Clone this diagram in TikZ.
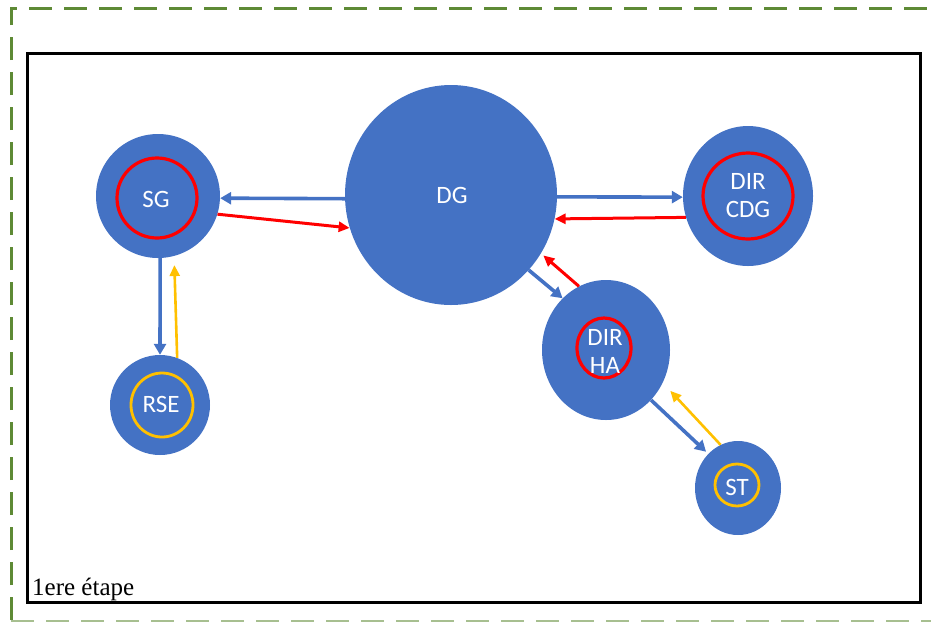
\documentclass[tikz,border=0pt]{standalone}
\usepackage{fontspec}
\setmainfont{Carlito}
\newfontfamily\labelfont{Liberation Serif}
\usetikzlibrary{shapes.geometric,arrows.meta}
\definecolor{nodeblue}{HTML}{4472C4}
\definecolor{ringred}{HTML}{FF0000}
\definecolor{ringyellow}{HTML}{FFC000}
\definecolor{frameGreen}{HTML}{5E8A35}
\tikzset{
  bubble/.style={ellipse, fill=nodeblue, inner sep=0pt},
  bubbletext/.style={text=white, font=\fontsize{25}{28}\selectfont, align=center, inner sep=0pt},
  ringR/.style={ellipse, draw=ringred, line width=3.2pt, inner sep=0pt},
  ringY/.style={ellipse, draw=ringyellow, line width=2.8pt, inner sep=0pt},
  bluearrow/.style={draw=nodeblue, line width=3.6pt, -{Triangle[length=11pt,width=12pt]}},
  redarrow/.style={draw=ringred, line width=3pt, -{Triangle[length=11pt,width=10pt]}},
  yelarrow/.style={draw=ringyellow, line width=2.6pt, -{Triangle[length=11pt,width=10pt]}},
}
\begin{document}
\begin{tikzpicture}[x=1pt,y=-1pt]
\useasboundingbox (0,0) rectangle (931,622);
\begin{scope}
\clip (0,0) rectangle (931,622);
\draw[frameGreen, line width=3pt, dash pattern=on 23pt off 12pt] (11,620) -- (11,8) -- (945,8);
\draw[frameGreen!55, line width=2.4pt, dash pattern=on 23pt off 12pt] (11,621) -- (945,621);
\end{scope}
\draw[black, line width=3pt] (27,53) rectangle (920,602);

% bubbles
\node[bubble, minimum width=124pt, minimum height=124pt] (SG) at (158,196) {};
\node[bubble, minimum width=212pt, minimum height=220pt] (DG) at (451,195) {};
\node[bubble, minimum width=130pt, minimum height=140pt] (CDG) at (748,196) {};
\node[bubble, minimum width=128pt, minimum height=140pt] (HA) at (606,350) {};
\node[bubble, minimum width=100pt, minimum height=100pt] (RSE) at (160,405) {};
\node[bubble, minimum width=86pt, minimum height=94pt] (ST) at (738,488) {};

% rings
\node[ringR, minimum width=80pt, minimum height=80pt] (SGring) at (157,198) {};
\node[ringR, minimum width=90pt, minimum height=86pt] (CDGring) at (748,196) {};
\node[ringR, minimum width=54pt, minimum height=60pt] (HAring) at (604,348) {};
\node[ringY, minimum width=62pt, minimum height=64pt] (RSEring) at (162,405) {};
\node[ringY, minimum width=44pt, minimum height=42pt] (STring) at (737,485) {};

% labels
\node[bubbletext] (SGt) at (156,199) {SG};
\node[bubbletext] (DGt) at (452,195) {DG};
\node[bubbletext] (CDGt) at (748,196) {DIR\\CDG};
\node[bubbletext] (HAt) at (605,351) {DIR\\HA};
\node[bubbletext] (RSEt) at (161,404) {RSE};
\node[bubbletext] (STt) at (737,487) {ST};

% arrows
\draw[bluearrow] (DG.182) -- (SG.-2);
\draw[redarrow] (SG.-17) -- (DG.198);
\draw[bluearrow] (DG.-1) -- (CDG.181);
\draw[redarrow] (CDG.199) -- (DG.-13);
\draw[bluearrow] (DG.-44) -- (HA.130);
\draw[redarrow, shorten >=3pt] (HA.113) -- (DG.-33);
\draw[bluearrow, shorten >=3pt] (HA.-48) -- (ST.131);
\draw[yelarrow, shorten >=11pt] (ST.112) -- (HA.-30);
\draw[bluearrow] (SG.-88) -- (RSE.90);
\draw[yelarrow, shorten >=9pt] (RSE.70) -- (SG.-75);

\node[anchor=base west, inner sep=0pt, font=\labelfont\fontsize{25}{28}\selectfont] (step) at (32,595) {1ere étape};
\end{tikzpicture}
\end{document}
